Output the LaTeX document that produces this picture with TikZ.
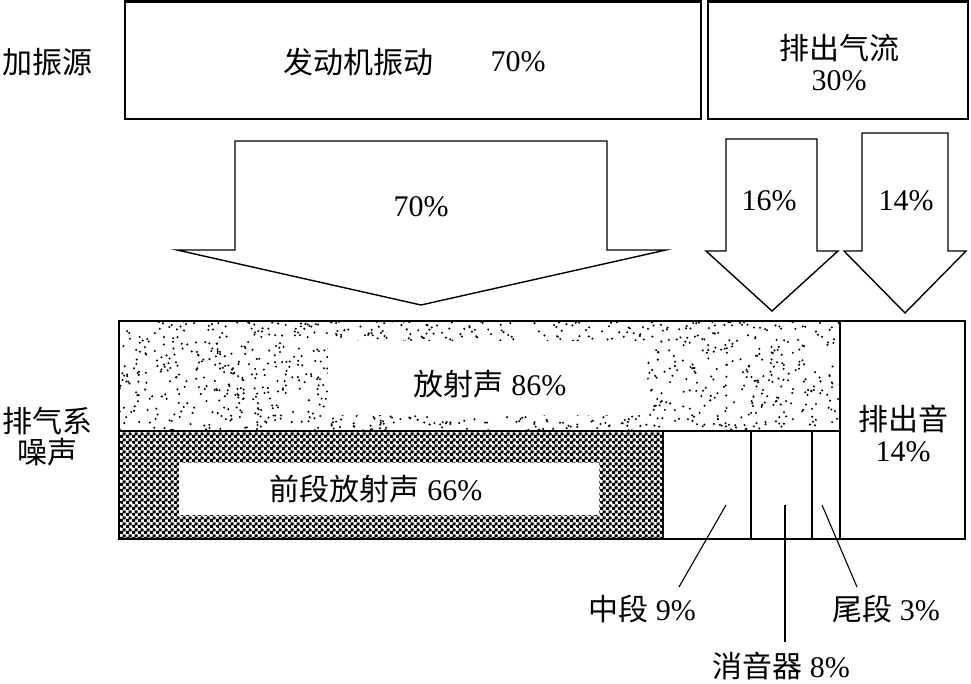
\documentclass[tikz,border=0pt]{standalone}
\usepackage{fontspec}
\setmainfont{Liberation Serif}
\newfontfamily\cjk{Noto Sans CJK SC}
\usetikzlibrary{patterns,patterns.meta}
\newcommand{\zh}[1]{{\cjk #1}}
\pgfdeclarepatternformonly{mychecker}{\pgfpointorigin}{\pgfqpoint{6pt}{6pt}}{\pgfqpoint{6pt}{6pt}}{%
  \pgfpathrectangle{\pgfpointorigin}{\pgfqpoint{3.6pt}{3.6pt}}%
  \pgfpathrectangle{\pgfqpoint{3pt}{3pt}}{\pgfqpoint{3.6pt}{3.6pt}}%
  \pgfusepath{fill}}
\begin{document}
\begin{tikzpicture}[x=1pt,y=-1pt,
  txt/.style={font=\fontsize{30}{31}\selectfont, inner sep=0pt, align=center},
  boxline/.style={draw, line width=2.6pt},
  arrowline/.style={draw, line width=1.4pt, line join=miter, fill=white},
  divline/.style={line width=2.4pt},
  leader/.style={line width=1.1pt}]
\useasboundingbox (0,0) rectangle (971,684);

% top boxes
\draw[boxline] (125,1.3) rectangle (701,119);
\draw[boxline] (708,1.3) rectangle (968,119);

% arrows
\draw[arrowline] (235,141) -- (607,141) -- (607,250) -- (666,250) -- (421,305) -- (177,250) -- (235,250) -- cycle;
\draw[arrowline] (726,139) -- (817,139) -- (817,251) -- (838,251) -- (772,311) -- (706,251) -- (726,251) -- cycle;
\draw[arrowline] (862,133) -- (948,133) -- (948,251) -- (966,251) -- (905,313) -- (844,251) -- (862,251) -- cycle;

% dotted region
\begin{scope}
  \clip (119,321) rectangle (840,431);
  \pgfmathsetseed{7}
  \foreach \i in {1,...,1300}{\fill ({119+721*rnd},{321+110*rnd}) circle[radius=1.15pt];}
\end{scope}
\fill[white, rounded corners=8pt] (328,341) rectangle (647,415);

% checker region
\fill[pattern=mychecker] (119,431) rectangle (663,539);
\fill[pattern={Dots[distance=12pt, radius=1.2pt]}, pattern color=white] (119,431) rectangle (663,539);
\fill[white] (179,463) rectangle (599,515);

% main box outlines
\draw[boxline] (119,321) rectangle (965,539);
\draw[divline] (119,431) -- (840,431);
\draw[divline] (840,321) -- (840,539);
\draw[divline] (663,431) -- (663,539);
\draw[divline] (751,431) -- (751,539);
\draw[divline] (812,431) -- (812,539);

% texts
\node[txt] (src) at (47,62) {\zh{加振源}};
\node[txt] (eng) at (358,62) {\zh{发动机振动}};
\node[txt] (engp) at (518,62) {70\%};
\node[txt] (gas) at (839,63) {\zh{排出气流}\\30\%};
\node[txt] (a1) at (421,207) {70\%};
\node[txt] (a2) at (769,201) {16\%};
\node[txt] (a3) at (906,201) {14\%};
\node[txt] (rad) at (490,384) {\zh{放射声} 86\%};
\node[txt] (front) at (376,489) {\zh{前段放射声} 66\%};
\node[txt] (exh) at (903,433) {\zh{排出音}\\14\%};
\node[txt] (sys) at (47,437) {\zh{排气系}\\\zh{噪声}};
\node[txt] (mid) at (642,609) {\zh{中段} 9\%};
\node[txt] (tail) at (886,609) {\zh{尾段} 3\%};
\node[txt] (muf) at (781,666) {\zh{消音器} 8\%};

% leader lines
\coordinate (mA) at (726,505);
\coordinate (mB) at (679,587);
\coordinate (fA) at (785,505);
\coordinate (fB) at (785,642);
\coordinate (tA) at (822,505);
\coordinate (tB) at (857,587);
\draw[leader] (mA) -- (mB);
\draw[leader] (fA) -- (fB);
\draw[leader] (tA) -- (tB);
\end{tikzpicture}
\end{document}
